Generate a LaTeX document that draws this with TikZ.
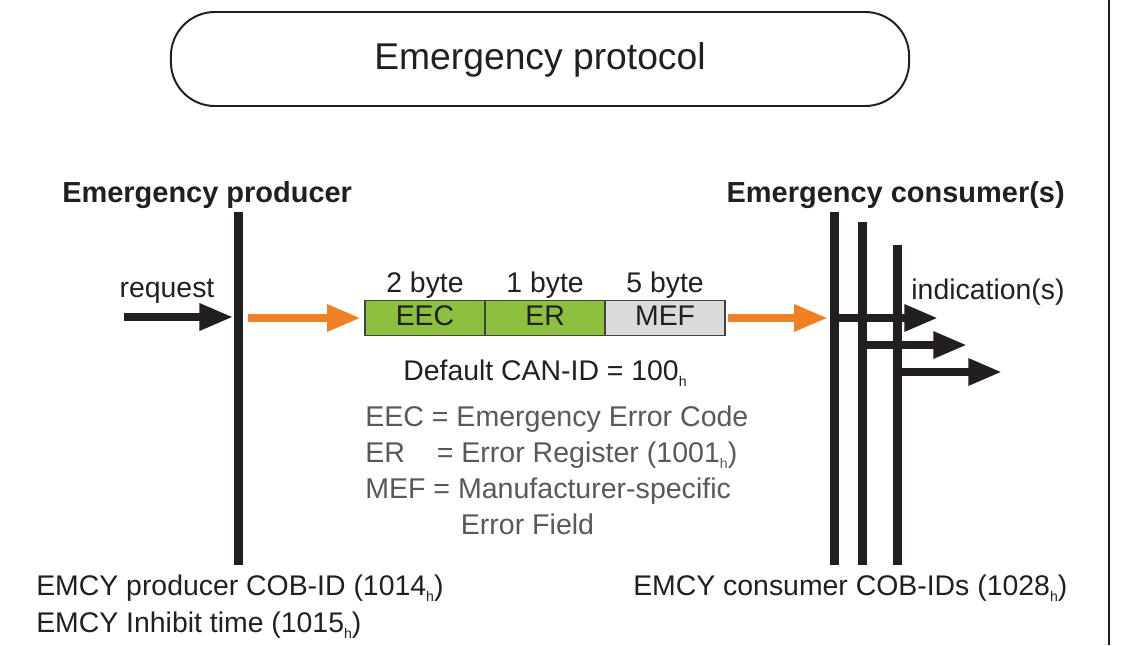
\documentclass[tikz,border=0pt]{standalone}
\usepackage{fontspec}
\setmainfont{Liberation Sans}
\usetikzlibrary{arrows.meta,positioning}
\definecolor{emgreen}{RGB}{141,192,63}
\definecolor{emgray}{RGB}{217,218,219}
\definecolor{emorange}{RGB}{240,128,34}
\definecolor{emtext}{RGB}{35,31,32}
\definecolor{emlegend}{RGB}{88,89,91}
\newcommand{\hsub}{\raisebox{-0.22em}{\fontsize{10}{10}\selectfont h}}

\begin{document}
\begin{tikzpicture}[x=0.025cm, y=-0.025cm,
    every node/.style={text=emtext, inner sep=0pt, font=\fontsize{20.2}{24}\selectfont},
    lifeline/.style={fill=emtext, minimum width=9*0.025cm},
    blackarrow/.style={draw=emtext, line width=5.7pt, -{Triangle[length=24pt,width=18pt]}},
    orangearrow/.style={draw=emorange, line width=5.7pt, -{Triangle[length=24pt,width=18pt]}},
    field/.style={draw=emtext!85, line width=0.9pt, minimum width=3cm, minimum height=0.875cm, outer sep=0pt, text height=1.05em},
    heading/.style={font=\bfseries\fontsize{20.6}{24}\selectfont}]
    \useasboundingbox (0,0) rectangle (1132,645);
    % frame
    \node[draw=emtext, line width=1.4pt, rounded corners=1.1cm, minimum width=18.45cm, minimum height=2.35cm] (title) at (540,59) {};
    \node (titletext) at (540,60) {\fontsize{26.5}{30}\selectfont Emergency protocol};
    \draw[emtext, line width=2pt] (1109,0) -- (1109,645);
    % producer and consumers
    \node[heading, anchor=west] (prodhead) at (62,195) {Emergency producer};
    \node[heading, anchor=east] (conshead) at (1065,195) {Emergency consumer(s)};
    \node[lifeline, minimum height=353*0.025cm] (prod) at (238,388.5) {};
    \node[lifeline, minimum height=353*0.025cm] (cons1) at (834,388.5) {};
    \node[lifeline, minimum height=343*0.025cm] (cons2) at (862,393.5) {};
    \node[lifeline, minimum height=320*0.025cm] (cons3) at (897,405) {};
    % message
    \node[field, fill=emgreen] (eec) at (425,318) {EEC};
    \node[field, fill=emgreen, right=0pt of eec] (er) {ER};
    \node[field, fill=emgray, right=0pt of er] (mef) {MEF};
    \node[above=1pt of eec] (eecsize) {2 byte};
    \node[above=1pt of er] (ersize) {1 byte};
    \node[above=1pt of mef] (mefsize) {5 byte};
    \node (canid) at (545,373) {Default CAN-ID = 100\hsub};
    \node[anchor=west, align=left, text=emlegend, font=\fontsize{20.3}{25.6}\selectfont] (legend) at (365,470)
        {EEC = Emergency Error Code\\
         ER\hspace{17pt} = Error Register (1001\hsub)\\
         MEF = Manufacturer-specific\\
         \hspace{68pt}Error Field};
    % arrows
    \node (request) at (167,291) {request};
    \coordinate (reqstart) at (124,317);
    \draw[blackarrow] (reqstart) -- (reqstart -| prod.west);
    \draw[orangearrow, shorten <=4pt, shorten >=3pt] (prod.east |- eec) -- (eec.west);
    \draw[orangearrow, shorten <=2pt, shorten >=1pt] (mef.east) -- (mef.east -| cons1.west);
    \node (indication) at (988,292) {indication(s)};
    \coordinate (ind1) at (938,318);
    \coordinate (ind2) at (967,345);
    \coordinate (ind3) at (1002,372);
    \draw[blackarrow] (cons1 |- ind1) -- (ind1);
    \draw[blackarrow] (cons2 |- ind2) -- (ind2);
    \draw[blackarrow] (cons3 |- ind3) -- (ind3);
    % object dictionary entries
    \node[anchor=west] (prodcob) at (36,588) {EMCY producer COB-ID (1014\hsub)};
    \node[anchor=west] (inhibit) at (36,625) {EMCY Inhibit time (1015\hsub)};
    \node[anchor=west] (conscob) at (633,588) {EMCY consumer COB-IDs (1028\hsub)};
\end{tikzpicture}
\end{document}
